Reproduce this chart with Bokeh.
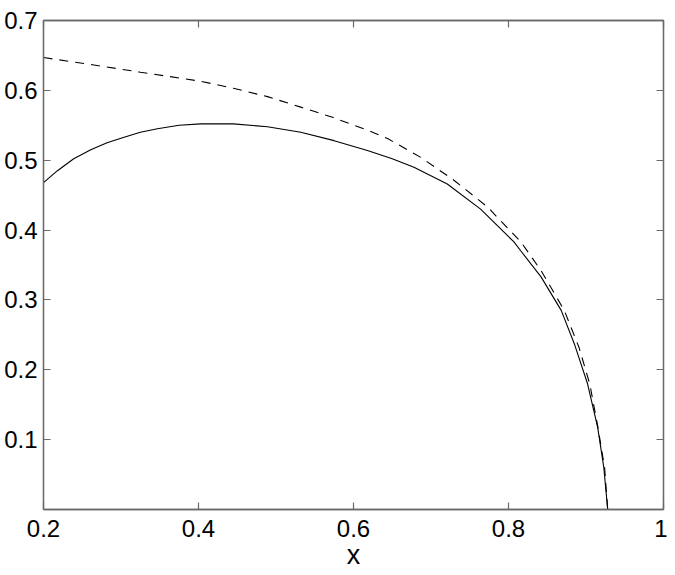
from bokeh.plotting import figure
from bokeh.models import ColumnDataSource, FixedTicker, LinearAxis, Range1d, CustomLabelingPolicy
from bokeh.embed import file_html
from bokeh.resources import INLINE

# --- data ---
x_solid = [0.200, 0.218, 0.239, 0.261, 0.282, 0.304, 0.325, 0.347, 0.375, 0.403,
           0.445, 0.489, 0.532, 0.575, 0.618, 0.650, 0.678, 0.721, 0.764, 0.807, 0.816,
           0.842, 0.868, 0.885, 0.902, 0.915, 0.923, 0.928]
y_solid = [0.468, 0.485, 0.502, 0.515, 0.525, 0.533, 0.540, 0.545, 0.550, 0.552,
           0.552, 0.548, 0.540, 0.528, 0.514, 0.502, 0.490, 0.466, 0.430, 0.383, 0.370,
           0.333, 0.285, 0.237, 0.180, 0.118, 0.060, 0.000]

x_dashed = [0.200, 0.261, 0.325, 0.403, 0.445, 0.489, 0.532, 0.574, 0.618, 0.644,
            0.687, 0.730, 0.773, 0.816, 0.842, 0.872, 0.891, 0.905, 0.915, 0.924, 0.928]
y_dashed = [0.647, 0.637, 0.626, 0.613, 0.603, 0.591, 0.576, 0.561, 0.543, 0.531,
            0.504, 0.471, 0.433, 0.383, 0.342, 0.285, 0.232, 0.179, 0.120, 0.060, 0.000]

x_ticks = [0.2, 0.4, 0.6, 0.8, 1.0]
x_tick_labels = ["0.2", "0.4", "0.6", "0.8", "1"]
y_ticks = [0.1, 0.2, 0.3, 0.4, 0.5, 0.6, 0.7]
y_tick_labels = ["0.1", "0.2", "0.3", "0.4", "0.5", "0.6", "0.7"]
x_label = "x"

FONT = "Liberation Sans"
FS = "24px"
AX = "#6a6a6a"

p = figure(output_backend="svg", toolbar_location=None,
           x_range=Range1d(0.2, 1.0), y_range=Range1d(0.0, 0.7),
           frame_width=620, frame_height=489,
           min_border_left=43, min_border_right=4, min_border_top=20, min_border_bottom=60,
           background_fill_color="white", border_fill_color="white")
p.grid.visible = False
p.outline_line_color = AX
p.outline_line_width = 1.3

src_s = ColumnDataSource(dict(x=x_solid, y=y_solid))
src_d = ColumnDataSource(dict(x=x_dashed, y=y_dashed))
p.line("x", "y", source=src_d, line_color="black", line_width=1.1, line_dash="9 7")
p.line("x", "y", source=src_s, line_color="black", line_width=1.1)

hide_labels = CustomLabelingPolicy(code="for (const i of indices) { indices.unset(i) }\nreturn indices")

def style(ax, ticks, labels, show):
    ax.ticker = FixedTicker(ticks=ticks)
    ax.major_label_overrides = dict(zip(ticks, labels))
    ax.minor_tick_line_color = None
    ax.major_tick_in = 7
    ax.major_tick_out = 0
    ax.major_tick_line_color = AX
    ax.major_tick_line_width = 1.2
    ax.axis_line_color = AX
    ax.axis_line_width = 1.3
    ax.major_label_text_font = FONT
    ax.major_label_text_color = "black"
    if show:
        ax.major_label_text_font_size = FS
    else:
        ax.major_label_text_font_size = "1px"
        ax.major_label_standoff = 0
        ax.major_label_policy = hide_labels

style(p.xaxis[0], x_ticks, x_tick_labels, True)
style(p.yaxis[0], y_ticks, y_tick_labels, True)
p.xaxis[0].major_label_standoff = 10
p.yaxis[0].major_label_standoff = 6
p.xaxis[0].axis_label = x_label
p.xaxis[0].axis_label_text_font = FONT
p.xaxis[0].axis_label_text_font_size = "27px"
p.xaxis[0].axis_label_text_font_style = "normal"
p.xaxis[0].axis_label_text_color = "black"
p.xaxis[0].axis_label_standoff = 0

top = LinearAxis()
right = LinearAxis()
style(top, x_ticks, x_tick_labels, False)
style(right, y_ticks, y_tick_labels, False)
p.add_layout(top, "above")
p.add_layout(right, "right")

open("out.html", "w").write(file_html(p, INLINE))
